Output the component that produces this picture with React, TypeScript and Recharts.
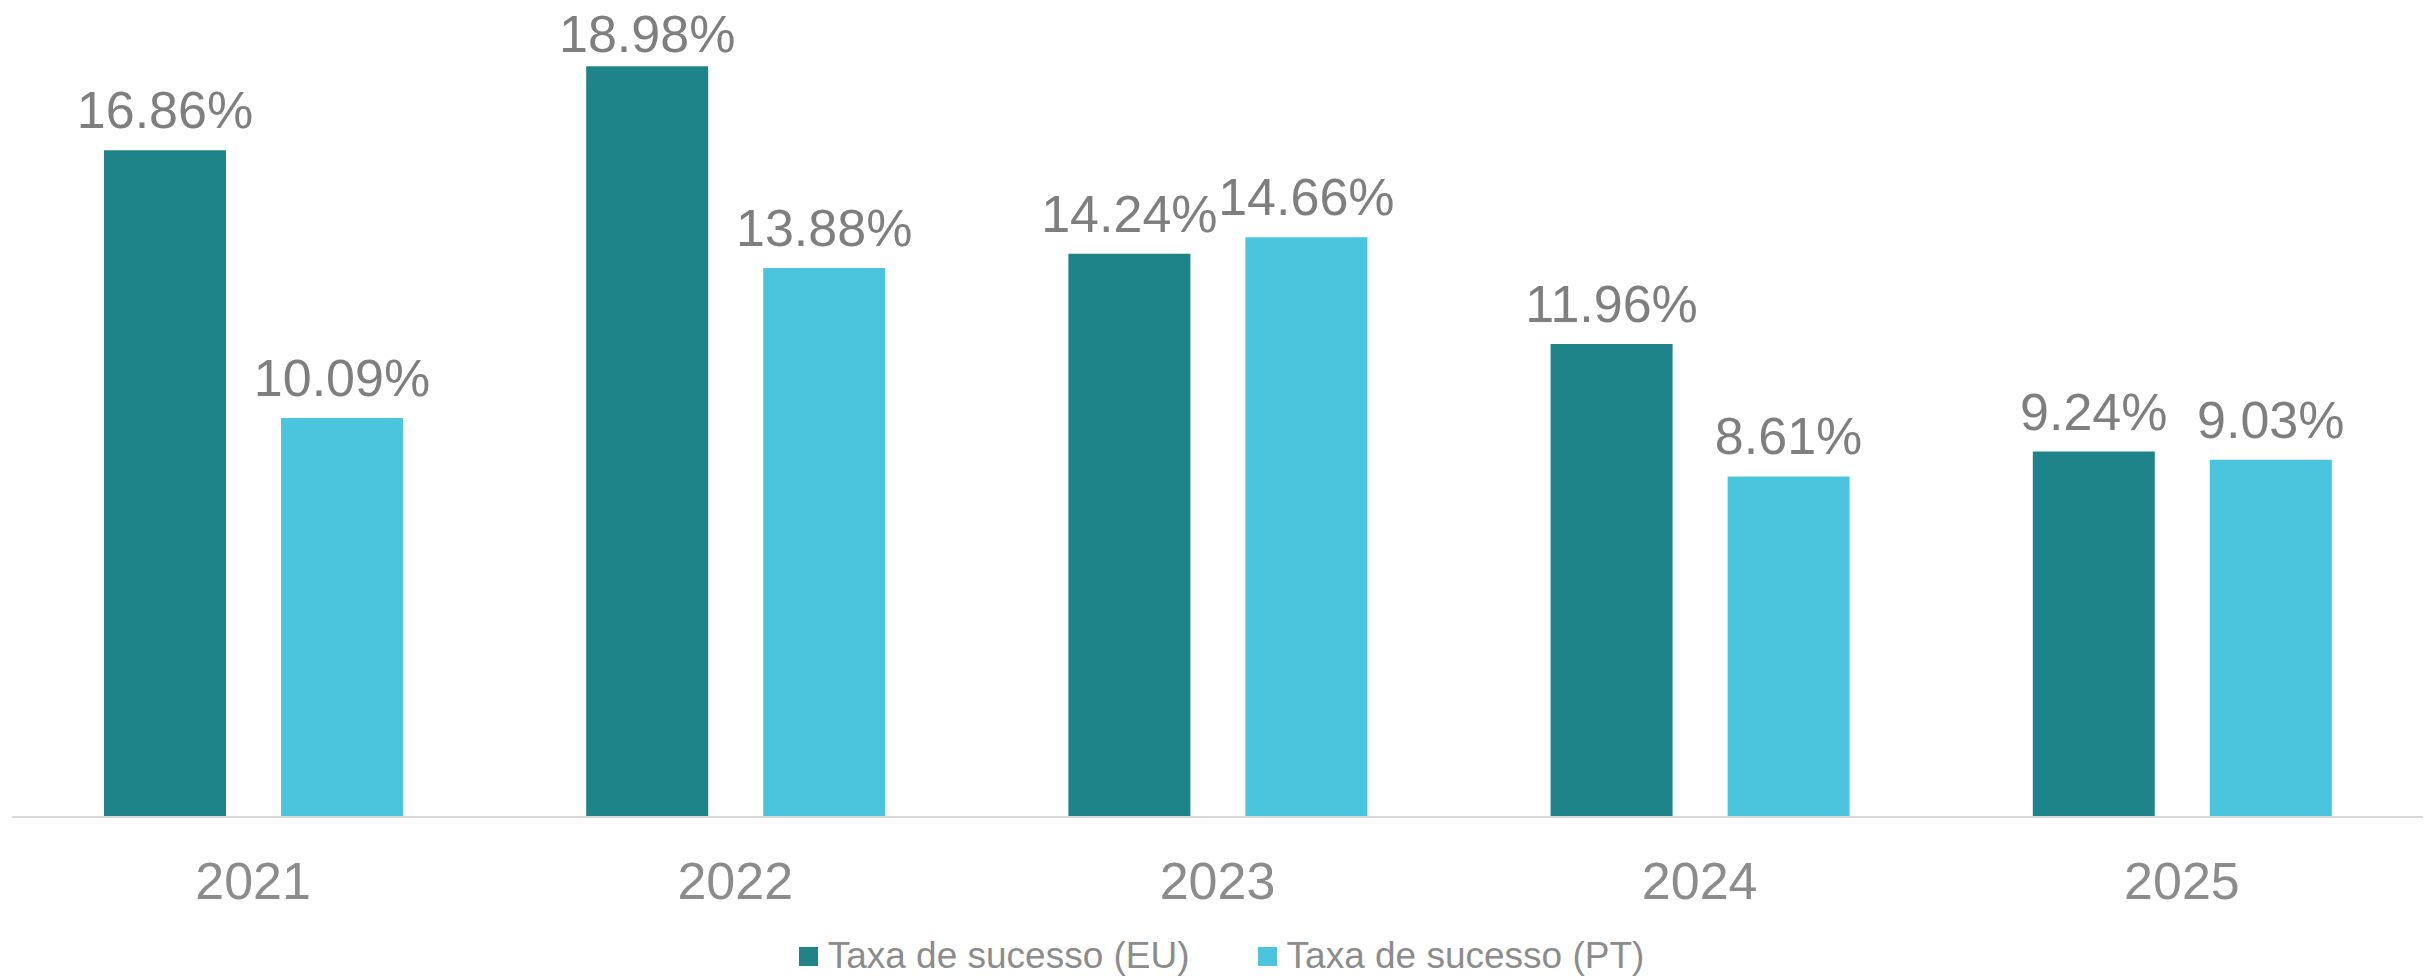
import { BarChart, Bar, XAxis, YAxis, Legend, LabelList } from "recharts";

const years = ["2021", "2022", "2023", "2024", "2025"];
const taxaEU = [16.86, 18.98, 14.24, 11.96, 9.24];
const taxaPT = [10.09, 13.88, 14.66, 8.61, 9.03];
const seriesNames = ["Taxa de sucesso (EU)", "Taxa de sucesso (PT)"];
const seriesColors = ["#1F8489", "#4BC5DD"];

const data = years.map((year, i) => ({
    year,
    eu: taxaEU[i],
    pt: taxaPT[i],
}));

const FONT = '"Liberation Sans", Arial, sans-serif';

// value label above the bar; kept inside the chart area like the original does
const ValueLabel = (props: any) => {
    const { x, y, width, value } = props;
    const baseline = Math.max(Number(y) - 22, 52);
    return (
        <text
            x={Number(x) + Number(width) / 2}
            y={baseline}
            textAnchor="middle"
            fill="#7F7F7F"
            fontSize={52}
            fontFamily={FONT}
        >
            {`${Number(value).toFixed(2)}%`}
        </text>
    );
};

const renderLegend = () => (
    <div
        style={{
            display: "flex",
            justifyContent: "center",
            alignItems: "center",
            height: 40,
            paddingLeft: 8,
            fontFamily: FONT,
            fontSize: 37,
            color: "#8C8C8C",
        }}
    >
        {seriesNames.map((name, i) => (
            <div
                key={name}
                style={{ display: "flex", alignItems: "center", marginLeft: i === 0 ? 0 : 68 }}
            >
                <span
                    style={{
                        display: "inline-block",
                        width: 19,
                        height: 19,
                        background: seriesColors[i],
                        marginRight: 10,
                    }}
                />
                <span style={{ lineHeight: "40px" }}>{name}</span>
            </div>
        ))}
    </div>
);

export default function App() {
    return (
        <div style={{ position: "absolute", top: 0, left: 0, width: 2427, height: 976, background: "#fff" }}>
            <BarChart
                width={2427}
                height={976}
                data={data}
                margin={{ top: 26, right: 4, left: 12, bottom: 0 }}
                barGap={55}
            >
                <XAxis
                    dataKey="year"
                    height={119}
                    tickLine={false}
                    tickSize={0}
                    tickMargin={45}
                    axisLine={{ stroke: "#D9D9D9", strokeWidth: 2 }}
                    tick={{ fill: "#8C8C8C", fontSize: 52, fontFamily: FONT }}
                />
                <YAxis hide domain={[0, 20]} />
                <Legend verticalAlign="bottom" content={renderLegend} />
                <Bar dataKey="eu" name={seriesNames[0]} fill={seriesColors[0]} barSize={122} isAnimationActive={false}>
                    <LabelList dataKey="eu" content={<ValueLabel />} />
                </Bar>
                <Bar dataKey="pt" name={seriesNames[1]} fill={seriesColors[1]} barSize={122} isAnimationActive={false}>
                    <LabelList dataKey="pt" content={<ValueLabel />} />
                </Bar>
            </BarChart>
        </div>
    );
}
